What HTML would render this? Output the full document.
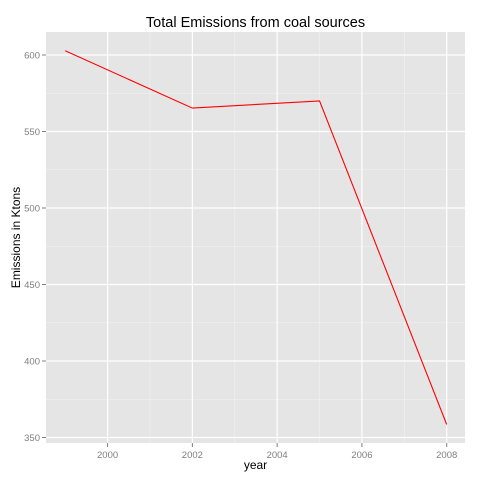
<!DOCTYPE html>
<html><head><meta charset="utf-8"><style>
body{margin:0;background:#fff;}
svg{display:block;font-family:"Liberation Sans",Arial,sans-serif;}
</style></head><body>
<svg id="chart" width="480" height="480" viewBox="0 0 480 480"></svg>
<script>
const years=[1999,2002,2005,2008];
const emissions=[602.8,565.3,570,358.5];
const xTicks=[2000,2002,2004,2006,2008];
const yTicks=[350,400,450,500,550,600];
const NS="http://www.w3.org/2000/svg";
const svg=document.getElementById('chart');
const L=46,R=465,T=32,B=443;
const x=v=>107.6+(v-2000)*(446.7-107.6)/8;
const y=v=>55+(600-v)*(437.5-55)/250;
function mk(tag,attrs,parent){const e=document.createElementNS(NS,tag);for(const k in attrs)e.setAttribute(k,attrs[k]);(parent||svg).appendChild(e);return e;}
const bg=mk('rect',{x:L,y:T,width:R-L,height:B-T,fill:'#e5e5e5'});


// minor grid
for(let i=0;i<xTicks.length-1;i++){const mx=x((xTicks[i]+xTicks[i+1])/2);const g=mk('line',{x1:mx,x2:mx,y1:T,y2:B,stroke:'#f2f2f2','stroke-width':0.6});}
for(let i=0;i<yTicks.length-1;i++){const my=y((yTicks[i]+yTicks[i+1])/2);const g=mk('line',{x1:L,x2:R,y1:my,y2:my,stroke:'#f2f2f2','stroke-width':0.6});}
xTicks.forEach(t=>{const px=x(t);
const g=mk('line',{x1:px,x2:px,y1:T,y2:B,stroke:'#fff','stroke-width':1.2});
const tk=mk('line',{x1:px,x2:px,y1:B,y2:B+4,stroke:'#7f7f7f'});
const tx=mk('text',{x:px,y:B+15,'text-anchor':'middle','font-size':9.5,fill:'#7f7f7f'});tx.textContent=t;});
yTicks.forEach(t=>{const py=y(t);
const g=mk('line',{x1:L,x2:R,y1:py,y2:py,stroke:'#fff','stroke-width':1.2});
const tk=mk('line',{x1:L-4,x2:L,y1:py,y2:py,stroke:'#7f7f7f'});
const tx=mk('text',{x:L-6,y:py+3.5,'text-anchor':'end','font-size':9.5,fill:'#7f7f7f'});tx.textContent=t;});
const pts=years.map((yr,i)=>x(yr)+','+y(emissions[i])).join(' ');
const line=mk('polyline',{points:pts,fill:'none',stroke:'#ff0000','stroke-width':1.1});


const title=mk('text',{x:(L+R)/2,y:27,'text-anchor':'middle','font-size':14.5,fill:'#000'});title.textContent='Total Emissions from coal sources';


const xt=mk('text',{x:(L+R)/2,y:469,'text-anchor':'middle','font-size':12,fill:'#000'});xt.textContent='year';


const yt=mk('text',{x:0,y:0,'text-anchor':'middle','font-size':12,fill:'#000',transform:'translate(20,'+(T+B)/2+') rotate(-90)'});yt.textContent='Emissions in Ktons';


</script>
</body></html>
